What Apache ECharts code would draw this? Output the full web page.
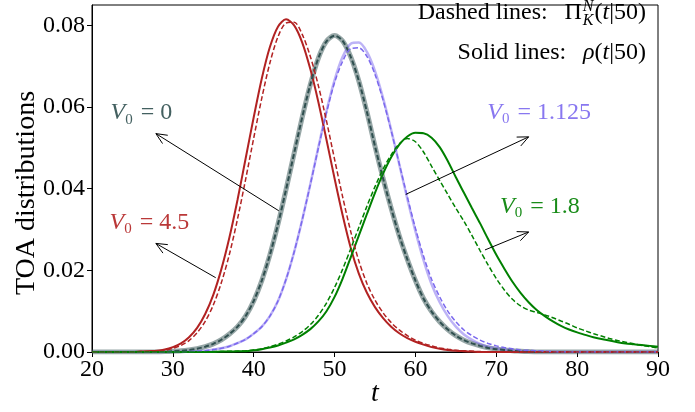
<!DOCTYPE html>
<html><head><meta charset="utf-8">
<script src="https://cdn.jsdelivr.net/npm/echarts@6/dist/echarts.min.js"></script>
<style>html,body{margin:0;padding:0;background:#fff}#c{width:695px;height:412px}</style>
</head><body><div id="c"></div>
<script>
// time grid t = 20 ... 90
const T = [20,21,22,23,24,25,26,27,28,29,
  30,31,32,33,34,35,36,37,38,39,
  40,41,42,43,44,45,46,47,48,49,
  50,51,52,53,54,55,56,57,58,59,
  60,61,62,63,64,65,66,67,68,69,
  70,71,72,73,74,75,76,77,78,79,
  80,81,82,83,84,85,86,87,88,89,
  90];

// V0 = 4.5 (red)
const RHO_V45 = [0,0,0,0,0,0,0.0001,0.0002,0.0003,0.0006,
  0.0012,0.0021,0.0036,0.0059,0.0093,0.0140,0.0203,0.0281,0.0373,0.0474,
  0.0575,0.0670,0.0747,0.0797,0.0815,0.0800,0.0758,0.0693,0.0612,0.0520,
  0.0425,0.0335,0.0255,0.0192,0.0145,0.0110,0.0083,0.0062,0.0046,0.0034,
  0.0025,0.0018,0.0012,0.0008,0.0005,0.0003,0.0002,0.0001,0,0,
  0,0,0,0,0,0,0,0,0,0,
  0,0,0,0,0,0,0,0,0,0,
  0];
const PI_V45 = [0,0,0,0,0,0,0.0001,0.0001,0.0002,0.0004,
  0.0009,0.0016,0.0028,0.0047,0.0075,0.0115,0.0170,0.0240,0.0326,0.0423,
  0.0524,0.0622,0.0708,0.0772,0.0806,0.0808,0.0778,0.0724,0.0652,0.0566,
  0.0472,0.0380,0.0295,0.0223,0.0168,0.0127,0.0096,0.0072,0.0054,0.0040,
  0.0029,0.0021,0.0015,0.0010,0.0007,0.0004,0.0003,0.0002,0.0001,0,
  0,0,0,0,0,0,0,0,0,0,
  0,0,0,0,0,0,0,0,0,0,
  0];

// V0 = 0 (dark slate gray) - solid and dashed coincide
const RHO_V0 = [0,0,0,0,0,0,0,0,0,0.0001,
  0.0002,0.0003,0.0005,0.0008,0.0013,0.0020,0.0030,0.0044,0.0062,0.0088,
  0.0125,0.0175,0.0238,0.0313,0.0398,0.0487,0.0575,0.0655,0.0720,0.0761,
  0.0775,0.0762,0.0723,0.0664,0.0588,0.0504,0.0425,0.0352,0.0285,0.0227,
  0.0175,0.0131,0.0099,0.0074,0.0055,0.0040,0.0029,0.0021,0.0015,0.0010,
  0.0007,0.0005,0.0003,0.0002,0.0001,0,0,0,0,0,
  0,0,0,0,0,0,0,0,0,0,
  0];
const PI_V0 = [0,0,0,0,0,0,0,0,0,0.0001,
  0.0002,0.0003,0.0005,0.0008,0.0013,0.0020,0.0030,0.0044,0.0062,0.0088,
  0.0125,0.0175,0.0238,0.0313,0.0398,0.0487,0.0575,0.0655,0.0720,0.0761,
  0.0775,0.0762,0.0723,0.0664,0.0588,0.0504,0.0425,0.0352,0.0285,0.0227,
  0.0175,0.0131,0.0099,0.0074,0.0055,0.0040,0.0029,0.0021,0.0015,0.0010,
  0.0007,0.0005,0.0003,0.0002,0.0001,0,0,0,0,0,
  0,0,0,0,0,0,0,0,0,0,
  0];

// V0 = 1.125 (medium slate blue)
const RHO_V1125 = [0,0,0,0,0,0,0,0,0,0,
  0,0,0.0001,0.0002,0.0003,0.0006,0.0009,0.0014,0.0022,0.0031,
  0.0045,0.0062,0.0088,0.0125,0.0178,0.0245,0.0324,0.0411,0.0502,0.0590,
  0.0666,0.0723,0.0755,0.0758,0.0735,0.0688,0.0622,0.0544,0.0460,0.0375,
  0.0296,0.0225,0.0166,0.0122,0.0088,0.0062,0.0043,0.0030,0.0020,0.0013,
  0.0009,0.0006,0.0004,0.0002,0.0001,0,0,0,0,0,
  0,0,0,0,0,0,0,0,0,0,
  0];
const PI_V1125 = [0,0,0,0,0,0,0,0,0,0,
  0,0,0.0001,0.0002,0.0003,0.0006,0.0009,0.0014,0.0022,0.0031,
  0.0045,0.0062,0.0088,0.0125,0.0178,0.0245,0.0324,0.0410,0.0500,0.0586,
  0.0660,0.0712,0.0743,0.0745,0.0724,0.0680,0.0617,0.0542,0.0461,0.0380,
  0.0303,0.0235,0.0178,0.0135,0.0100,0.0074,0.0054,0.0040,0.0029,0.0021,
  0.0015,0.0011,0.0008,0.0005,0.0004,0.0003,0.0002,0.0001,0,0,
  0,0,0,0,0,0,0,0,0,0,
  0];

// V0 = 1.8 (green)
const RHO_V18 = [0,0,0,0,0,0,0,0,0,0,
  0,0,0,0,0,0,0.0001,0.0001,0.0002,0.0002,
  0.0004,0.0007,0.0011,0.0016,0.0023,0.0031,0.0042,0.0056,0.0075,0.0100,
  0.0135,0.0180,0.0232,0.0285,0.0338,0.0390,0.0437,0.0477,0.0508,0.0528,
  0.0537,0.0536,0.0525,0.0502,0.0468,0.0428,0.0390,0.0352,0.0315,0.0276,
  0.0238,0.0204,0.0172,0.0145,0.0122,0.0103,0.0088,0.0075,0.0064,0.0055,
  0.0048,0.0042,0.0036,0.0032,0.0028,0.0024,0.0021,0.0019,0.0017,0.0015,
  0.0013];
const PI_V18 = [0,0,0,0,0,0,0,0,0,0,
  0,0,0,0,0,0.0001,0.0001,0.0002,0.0002,0.0003,
  0.0005,0.0008,0.0013,0.0019,0.0027,0.0037,0.0050,0.0067,0.0090,0.0120,
  0.0158,0.0203,0.0253,0.0305,0.0357,0.0405,0.0448,0.0483,0.0510,0.0523,
  0.0515,0.0490,0.0455,0.0420,0.0386,0.0352,0.0320,0.0285,0.0248,0.0213,
  0.0180,0.0152,0.0129,0.0113,0.0103,0.0097,0.0091,0.0084,0.0076,0.0068,
  0.0059,0.0052,0.0045,0.0039,0.0033,0.0028,0.0024,0.0020,0.0016,0.0013,
  0.0010];

const X_TICKS = [20,30,40,50,60,70,80,90];
const Y_TICKS = [0,0.02,0.04,0.06,0.08];

// annotations (data coordinates)
const ANNOTATIONS = [
  {name:'0',     color:'#2f4f4f', text:[26.1,0.0585], tail:[43.1,0.0346], tip:[27.9,0.0535]},
  {name:'4.5',   color:'#b22222', text:[27.1,0.0316], tail:[35.3,0.0182], tip:[27.9,0.0266]},
  {name:'1.125', color:'#7b68ee', text:[75.3,0.0587], tail:[58.8,0.0386], tip:[74.0,0.0527]},
  {name:'1.8',   color:'#008000', text:[75.4,0.0357], tail:[68.6,0.0250], tip:[74.0,0.0294]}
];

const FONT = 'Liberation Serif';
const chart = echarts.init(document.getElementById('c'), null, {renderer:'canvas'});
function pairs(v){ return T.map((t,i)=>[t, v[i]]); }
function line(name, vals, color, width, dashed, z){
  return {type:'line', name, data:pairs(vals), showSymbol:false, smooth:0.3, z,
    lineStyle:{color, width, type: dashed ? [5,2.5] : 'solid'}, emphasis:{disabled:true}, silent:true};
}

// measuring for top-right math text
const cv = document.createElement('canvas').getContext('2d');
function tw(font, s){ cv.font = font; return cv.measureText(s).width; }
const FS = 24;
const up = FS+'px "'+FONT+'"', it = 'italic '+FS+'px "'+FONT+'"', sm = 'italic 16px "'+FONT+'"';
const R = 646;
const w1 = tw(up,'(') + tw(it,'t') + tw(up,'|50)');
const wSub = Math.max(tw(sm,'N'), tw(sm,'K'));
const xs = R - w1 - wSub - 1;

const option = {
  animation:false,
  backgroundColor:'#fff',
  grid:{left:92, right:37, top:5, bottom:60, show:true, borderColor:'#000', borderWidth:1},
  xAxis:{type:'value', min:20, max:90, interval:10,
    axisLine:{show:true, lineStyle:{color:'#000', width:1}},
    axisTick:{show:true, length:5, lineStyle:{color:'#000'}},
    axisLabel:{color:'#000', fontFamily:FONT, fontSize:24, margin:6, customValues:X_TICKS},
    splitLine:{show:false}},
  yAxis:{type:'value', min:0, max:0.085,
    axisLine:{show:true, lineStyle:{color:'#000', width:1}},
    axisTick:{show:true, length:5, lineStyle:{color:'#000'}, customValues:Y_TICKS},
    axisLabel:{color:'#000', fontFamily:FONT, fontSize:24, margin:7, customValues:Y_TICKS,
      formatter:v=>v.toFixed(2)},
    splitLine:{show:false}},
  series:[
    line('rho0', RHO_V0, 'rgba(47,79,79,0.5)', 5, false, 2),
    line('pi0', PI_V0, '#2f4f4f', 2, true, 3),
    line('rho1125', RHO_V1125, 'rgba(123,104,238,0.5)', 2.5, false, 2),
    line('pi1125', PI_V1125, '#7b68ee', 1.5, true, 3),
    line('rho45', RHO_V45, '#b22222', 2, false, 2),
    line('pi45', PI_V45, '#b22222', 1.5, true, 3),
    line('rho18', RHO_V18, '#008000', 2, false, 2),
    line('pi18', PI_V18, '#008000', 1.5, true, 3),
    {type:'custom', name:'annotations', clip:false, silent:true, z:5,
      data: ANNOTATIONS.map(a=>[a.tip[0], a.tip[1]]),
      encode:{x:0, y:1},
      renderItem:function(params, api){
        const a = ANNOTATIONS[params.dataIndex];
        const p1 = api.coord(a.tail), p2 = api.coord(a.tip), tp = api.coord(a.text);
        const ang = Math.atan2(p2[1]-p1[1], p2[0]-p1[0]);
        const L = 12, w = 0.42;
        const h1 = [p2[0]-L*Math.cos(ang-w), p2[1]-L*Math.sin(ang-w)];
        const h2 = [p2[0]-L*Math.cos(ang+w), p2[1]-L*Math.sin(ang+w)];
        return {type:'group', children:[
          {type:'line', shape:{x1:p1[0], y1:p1[1], x2:p2[0], y2:p2[1]}, style:{stroke:'#000', lineWidth:1}},
          {type:'polyline', shape:{points:[h1,p2,h2]}, style:{stroke:'#000', lineWidth:1, fill:null}},
          {type:'text', x:tp[0], y:tp[1], style:{
            text:'{v|V}{s|0}{n| = '+a.name+'}',
            align:'center', verticalAlign:'middle', opacity:0.9,
            rich:{
              v:{fontFamily:FONT, fontSize:24, fontStyle:'italic', fill:a.color, lineHeight:24, verticalAlign:'top'},
              s:{fontFamily:FONT, fontSize:15, fill:a.color, lineHeight:15, padding:[11,2,0,0], verticalAlign:'top'},
              n:{fontFamily:FONT, fontSize:24, fill:a.color, lineHeight:24, verticalAlign:'top'}
            }}}
        ]};
      }}
  ],
  graphic:[
    {type:'text', x:27, y:193, rotation:Math.PI/2, style:{text:'TOA distributions', font:'28px "'+FONT+'"', fill:'#000', align:'center', verticalAlign:'middle'}},
    {type:'text', x:375, y:394, style:{text:'t', font:'italic 28px "'+FONT+'"', fill:'#000', align:'center', verticalAlign:'middle'}},
    {type:'text', x:R, y:13, style:{text:'{r|(}{i|t}{r||50)}', align:'right', verticalAlign:'middle',
      rich:{r:{fontFamily:FONT, fontSize:FS, fill:'#000'}, i:{fontFamily:FONT, fontSize:FS, fontStyle:'italic', fill:'#000'}}}},
    {type:'text', x:xs, y:7, style:{text:'N', font:sm, fill:'#000', align:'left', verticalAlign:'middle'}},
    {type:'text', x:xs, y:20.5, style:{text:'K', font:sm, fill:'#000', align:'left', verticalAlign:'middle'}},
    {type:'text', x:xs-1, y:13, style:{text:'Dashed lines:\u2002\u2009\u03A0', font:up, fill:'#000', align:'right', verticalAlign:'middle'}},
    {type:'text', x:R, y:53, style:{text:'{r|Solid lines:\u2002\u2009}{i|\u03C1}{r|(}{i|t}{r||50)}', align:'right', verticalAlign:'middle',
      rich:{r:{fontFamily:FONT, fontSize:FS, fill:'#000'}, i:{fontFamily:FONT, fontSize:FS, fontStyle:'italic', fill:'#000'}}}}
  ]
};
chart.setOption(option);
</script>
</body></html>
